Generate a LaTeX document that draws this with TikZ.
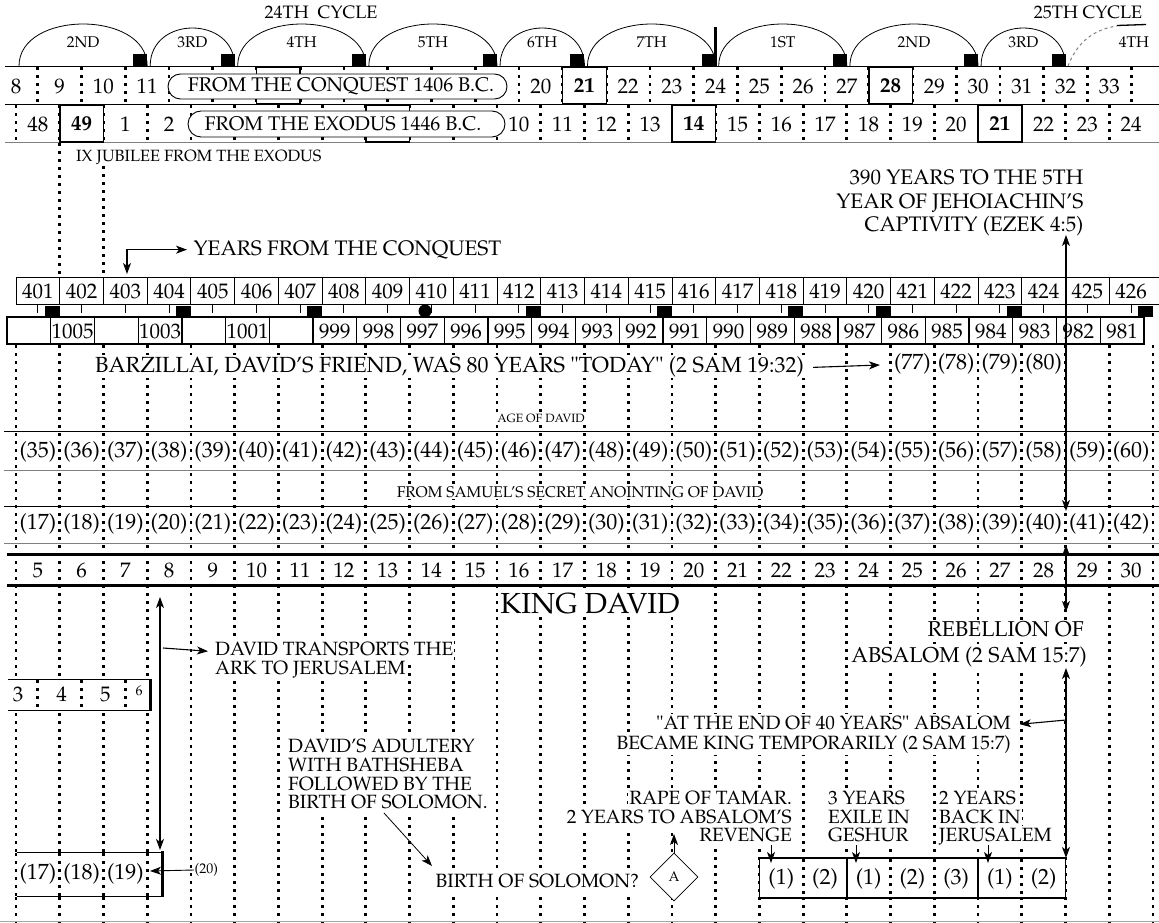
\documentclass[tikz,border=0pt]{standalone}
\usepackage[T1]{fontenc}
\usepackage{mathpazo}
\usetikzlibrary{arrows.meta,shapes.geometric}
\newcommand\fz[2]{\fontsize{#1}{#2}\selectfont}
\def\GO{16}
\def\GB{43.73}
\begin{document}
\begin{tikzpicture}[x=1pt,y=-1pt,
  >={Stealth[length=11pt,width=8pt,inset=3pt]},
  dotl/.style={line width=2.8pt,dash pattern=on 2.8pt off 5.2pt},
  rl/.style={line width=0.9pt},
  num/.style={font=\fz{21}{24},inner sep=0.5pt},
  age/.style={font=\fz{22}{24},inner sep=0.5pt},
  ann/.style={font=\fz{19.2}{20},inner sep=1pt,fill=white,text height=14pt,text depth=4.5pt},
  big/.style={font=\fz{21.5}{24},inner sep=1pt,fill=white,text height=15pt,text depth=5pt},
  small/.style={font=\fz{15.5}{17},inner sep=1pt,fill=white},
  arr/.style={line width=1.1pt,->},
  darr/.style={line width=1.1pt,<->},
  bx/.style={line width=1.6pt},
]
\useasboundingbox (0,0) rectangle (1159,923);

% ---------- top cycles ----------
\node[font=\fz{18}{20}] (c24) at (321,12) {24TH\ \ CYCLE};
\node[font=\fz{18}{20}] (c25) at (1088,12) {25TH CYCLE};
\foreach \a/\b/\r/\lab [count=\i] in {0/3/42/2ND,3/5/38/3RD,5/8/42/4TH,8/11/42/5TH,11/13/38/6TH,13/16/42/7TH,16/19/42/1ST,19/22/42/2ND,22/24/38/3RD}{
  \pgfmathsetmacro\xs{\GO+\GB*\a+3}
  \pgfmathsetmacro\xe{\GO+\GB*\b}
  \pgfmathsetmacro\yc{66-1.333*\r}
  \draw[line width=0.8pt] (\xs,66) .. controls (\xs,\yc) and (\xe,\yc) .. (\xe,66);
  \fill (\xe-14,54.5) rectangle (\xe,66);
  \node[font=\fz{15.5}{18}] (arc\i) at ({(\xs+\xe)/2},42) {\lab};
}
\draw[gray,dashed,line width=1pt] (1068,66) .. controls (1078,40) and (1096,29) .. (1117,26);
\draw[line width=1.3pt] (1117,25.5) -- (1146,24.5);
\node[font=\fz{15.5}{18}] (arc10) at (1134,42) {4TH};
\draw[line width=3.5pt] ({\GO+\GB*16},27) -- ({\GO+\GB*16},66);

% ---------- rows conquest / exodus ----------
\draw[rl] (5,66) -- (1159,66);
\draw[rl] (5,104) -- (1159,104);
\draw[rl,gray] (5,142) -- (1159,142);
\foreach \k in {0,...,25} \draw[dotl] ({\GO+\GB*\k+\GB/2},67) -- ++(0,37);
\foreach \k in {0,...,25} \draw[dotl] ({\GO+\GB*\k},105) -- ++(0,37);
\foreach \k in {6,13,20} \draw[bx,fill=white] ({\GO+\GB*\k-\GB/2},67) rectangle ({\GO+\GB*\k+\GB/2},104);
\foreach \k in {1,8,15,22} \draw[bx,fill=white] ({\GO+\GB*\k},105) rectangle ({\GO+\GB*(\k+1)},142);
\draw[rl,fill=white,rounded corners=12.5pt] (168,74) rectangle (507,99);
\draw[rl,fill=white,rounded corners=13pt] (188,111) rectangle (505,137);
\node[font=\fz{19.8}{22},inner sep=0pt] (pc) at (341,86.5) {FROM THE CONQUEST 1406 B.C.};
\node[font=\fz{19.8}{22},inner sep=0pt] (pe) at (343,124) {FROM THE EXODUS 1446 B.C.};
\foreach \k/\v in {0/8,1/9,2/10,3/11,12/20,13/{\textbf{21}},14/22,15/23,16/24,17/25,18/26,19/27,20/{\textbf{28}},21/29,22/30,23/31,24/32,25/33}
  \node[num] (ra\k) at ({\GO+\GB*\k},86) {\v};
\foreach \k/\v in {0/48,1/{\textbf{49}},2/1,3/2,11/10,12/11,13/12,14/13,15/{\textbf{14}},16/15,17/16,18/17,19/18,20/19,21/20,22/{\textbf{21}},23/22,24/23,25/24}
  \node[num] (rb\k) at ({\GO+\GB*\k+\GB/2},124) {\v};

% ---------- middle annotations ----------
\draw[dotl] ({\GO+\GB},143) -- ({\GO+\GB},277);
\draw[dotl] ({\GO+\GB*2},150) -- ({\GO+\GB*2},277);
\node[font=\fz{16.3}{18},inner sep=1pt,fill=white,anchor=base west] (jub) at (75,161) {IX JUBILEE FROM THE EXODUS};
\node[font=\fz{21}{24},anchor=base east,inner sep=0.5pt] (y390a) at (1084,184) {390 YEARS TO THE 5TH};
\node[font=\fz{21}{24},anchor=base east,inner sep=0.5pt] (y390b) at (1084,208) {YEAR OF JEHOIACHIN'S};
\node[font=\fz{21}{24},anchor=base east,inner sep=0.5pt] (y390c) at (1084,231) {CAPTIVITY (EZEK 4:5)};
\node[font=\fz{21}{24},anchor=base west,inner sep=0.5pt] (ycq) at (193,255) {YEARS FROM THE CONQUEST};
\coordinate (ycqdown) at (127,274);
\draw[darr] (ycqdown) |- ([xshift=-6pt]ycq.west);

% ---------- 401 row ----------
\draw[rl] (16,277) -- (1159,277);
\draw[rl] (16,304) -- (1159,304);
\foreach \k in {0,...,25} \draw[rl] ({\GO+\GB*\k},277) -- ++(0,27);
\foreach \k in {0,...,25}{
  \pgfmathtruncatemacro\yr{401+\k}
  \node[num] (yr\k) at ({\GO+\GB*\k+\GB/2},291) {\yr};
  \draw[line width=1pt] ({\GO+\GB*\k+\GB/2},304) -- ++(0,9);
}
\fill (425,311) circle[radius=6.5pt];

% ---------- BC year boxes ----------
\foreach \k in {0,...,25} \draw[line width=1.3pt] ({7+\GB*\k},317) rectangle ({7+\GB*(\k+1)},344);
\foreach \k/\v in {1/1005,3/1003,5/1001}
  \node[num] (bc\k) at ({7+\GB*\k+\GB/2},331) {\v};
\foreach \k in {7,...,25}{
  \pgfmathtruncatemacro\bcv{1006-\k}
  \node[num] (bc\k) at ({7+\GB*\k+\GB/2},331) {\bcv};
}
\foreach \k in {0,3,6,11,14,17,19,22,25} \fill ({\GO+\GB*(\k+1)-15},306) rectangle ({\GO+\GB*(\k+1)},317);

% ---------- lower grid ----------
\foreach \k in {0,...,26} \draw[dotl] ({\GO+\GB*\k},345) -- ({\GO+\GB*\k},923);
\draw[rl] (4,431) -- (1159,431);
\draw[rl,gray] (4,470) -- (1159,470);
\draw[rl] (4,506) -- (1159,506);
\draw[rl,gray] (4,543) -- (1159,543);
\draw[line width=3pt] (7,554) -- (1159,554);
\draw[line width=3pt] (7,585) -- (1159,585);
\draw[line width=0.8pt,gray!70] (0,921) -- (1159,921);

\node[font=\fz{21.9}{24},inner sep=1pt,fill=white,anchor=base west] (barz) at (94,372) {BARZILLAI, DAVID'S FRIEND, WAS 80 YEARS "TODAY" (2 SAM 19:32)};
\coordinate (barzend) at (880,365);
\draw[arr] ([xshift=8pt,yshift=-1pt]barz.east) -- (barzend);
\foreach \k/\v in {20/77,21/78,22/79,23/80} \node[age] (bz\k) at ({\GO+\GB*\k+\GB/2},364) {(\v)};
\node[font=\fz{12}{14},inner sep=1pt,fill=white] (aged) at (541,418) {AGE OF DAVID};
\node[small] (anoint) at (580,492) {FROM SAMUEL'S SECRET ANOINTING OF DAVID};
\foreach \k in {0,...,25}{
  \pgfmathtruncatemacro\ag{35+\k}
  \pgfmathtruncatemacro\an{17+\k}
  \pgfmathtruncatemacro\kd{5+\k}
  \node[age] (ag\k) at ({\GO+\GB*\k+\GB/2},452) {(\ag)};
  \node[age] (an\k) at ({\GO+\GB*\k+\GB/2},524) {(\an)};
  \node[num] (kd\k) at ({\GO+\GB*\k+\GB/2},570) {\kd};
}

% ---------- right vertical arrows ----------
\coordinate (a1t) at (1066,235);
\coordinate (a1b) at (1066,511);
\draw[darr] (a1t) -- (a1b);
\coordinate (a2t) at (1066,545);
\coordinate (a2b) at (1066,612);
\draw[darr] (a2t) -- (a2b);

% ---------- lower annotations ----------
\node[font=\fz{29}{30},inner sep=1pt,fill=white] (king) at (590,604) {KING DAVID};
\node[big,anchor=base east] (reb1) at (1085,636) {REBELLION OF};
\node[big,anchor=base east] (reb2) at (1088,662) {ABSALOM (2 SAM 15:7)};
\node[ann,anchor=base west] (tr1) at (214,655) {DAVID TRANSPORTS THE};
\node[ann,anchor=base west] (tr2) at (214,674) {ARK TO JERUSALEM};
\node[ann,anchor=base east] (end1) at (1012,729) {"AT THE END OF 40 YEARS" ABSALOM};
\node[ann,anchor=base east] (end2) at (1012,749) {BECAME KING TEMPORARILY (2 SAM 15:7)};
\node[ann,anchor=base west] (ad1) at (287,752) {DAVID'S ADULTERY};
\node[ann,anchor=base west] (ad2) at (287,771) {WITH BATHSHEBA};
\node[ann,anchor=base west] (ad3) at (287,790) {FOLLOWED BY THE};
\node[ann,anchor=base west] (ad4) at (287,808) {BIRTH OF SOLOMON.};
\node[ann,anchor=base east] (rp1) at (793,804) {RAPE OF TAMAR.};
\node[ann,anchor=base east] (rp2) at (793,823) {2 YEARS TO ABSALOM'S};
\node[ann,anchor=base east] (rp3) at (793,841) {REVENGE};
\node[ann,anchor=base west] (ex1) at (827,804) {3 YEARS};
\node[ann,anchor=base west] (ex2) at (827,823) {EXILE IN};
\node[ann,anchor=base west] (ex3) at (827,841) {GESHUR};
\node[ann,anchor=base west] (bk1) at (938,804) {2 YEARS};
\node[ann,anchor=base west] (bk2) at (938,823) {BACK IN};
\node[ann,anchor=base west] (bk3) at (938,841) {JERUSALEM};
\node[ann,anchor=base east] (sol) at (640,887) {BIRTH OF SOLOMON?};

% ark arrows
\coordinate (arkt) at (160,597);
\coordinate (arkb) at (160,850);
\draw[darr] (arkt) -- (arkb);
\coordinate (trs) at (163,648);
\draw[arr] (trs) -- ([xshift=-6pt,yshift=-1pt]tr1.west);

% box 3 4 5 6
\fill[white] (8,679) rectangle (150,710);
\draw[rl] (8,679) -- (150,679);
\draw[rl] (8,710) -- (150,710);
\draw[line width=3pt] (150,679) -- (150,711);
\foreach \k in {0,1,2} \draw[dotl] ({\GO+\GB*\k+\GB/2},680) -- ++(0,30);
\foreach \k/\v in {0/3,1/4,2/5} \node[num] (ea\k) at ({\GO+\GB*\k+2},694) {\v};
\node[font=\fz{14}{16},inner sep=0.5pt] (ea3) at (139,691) {6};

% box (17)(18)(19)
\fill[white] (14,852) rectangle (162,896);
\draw[rl] (17,852) -- (162,852);
\draw[rl] (17,896) -- (162,896);
\foreach \k in {0,...,3} \draw[dotl] ({\GO+\GB*\k},853) -- ++(0,43);
\draw[line width=3pt] (162,851) -- (162,897);
\foreach \k/\v in {0/17,1/18,2/19} \node[age] (sm\k) at ({\GO+\GB*\k+\GB/2},874) {(\v)};
\node[font=\fz{14}{16},inner sep=0.5pt,anchor=west] (tw) at (194,870) {(20)};
\draw[line width=0.9pt,->] (tw.west) -- (150,871);

% David adultery arrow
\coordinate (adt) at (384,813);
\coordinate (adb) at (432,866);
\draw[line width=0.8pt,->] (adt) -- (adb);

% diamond A
\node[draw,diamond,minimum width=48pt,minimum height=48pt,inner sep=0pt,fill=white,line width=0.8pt,font=\fz{14}{16}] (dA) at (674,877) {A};
\coordinate (dAup) at (674,834);
\draw[line width=0.9pt,->] (dA.north) -- (dAup);

% box (1)(2)...
\pgfmathsetmacro\bl{\GO+\GB*17}
\pgfmathsetmacro\br{\GO+\GB*24}
\fill[white] (\bl,858) rectangle (\br,898);
\foreach \k in {18,20,21,23} \draw[dotl] ({\GO+\GB*\k},859) -- ++(0,39);
\draw[line width=1.2pt] (\bl,858) rectangle (\br,898);
\foreach \k in {19,22} \draw[line width=1.4pt] ({\GO+\GB*\k},858) -- ++(0,40);
\foreach \k/\v in {17/1,18/2,19/1,20/2,21/3,22/1,23/2} \node[age] (yb\k) at ({\GO+\GB*\k+\GB/2},879) {(\v)};
\foreach \x/\n in {771/r,856/e,988/b}{
  \coordinate (d\n t) at (\x,845);
  \coordinate (d\n b) at (\x,863);
  \draw[line width=0.9pt,->] (d\n t) -- (d\n b);
}

% right arrows lower
\coordinate (a3t) at (1066,668);
\coordinate (a3b) at (1066,858);
\draw[darr] (a3t) -- (a3b);
\coordinate (a4s) at (1066,720);
\draw[arr] (a4s) -- ([xshift=8pt]end1.east);
\end{tikzpicture}
\end{document}
